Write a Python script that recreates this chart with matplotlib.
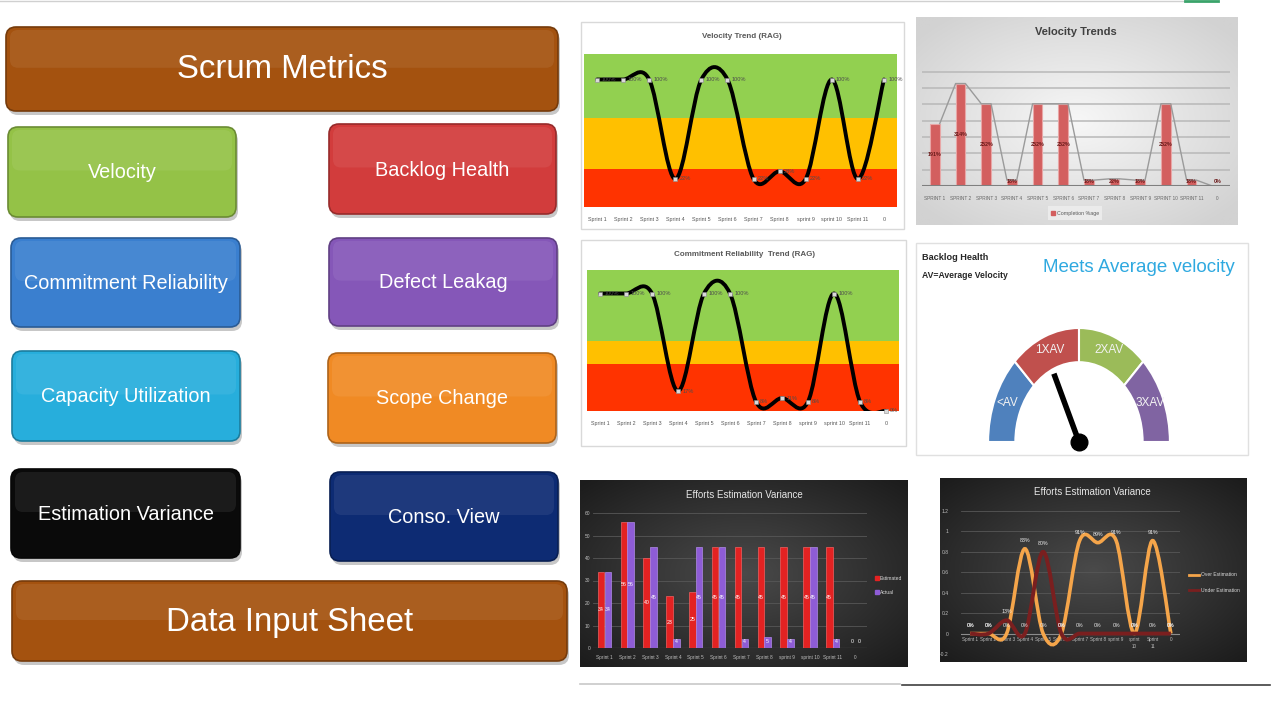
import numpy as np
import matplotlib
matplotlib.use("Agg")
import matplotlib.pyplot as plt
import matplotlib.colors as mcolors
from matplotlib import font_manager as fm
from matplotlib.patches import FancyBboxPatch, Rectangle, Wedge, PathPatch
from matplotlib.path import Path

# narrow face if one is installed, otherwise Liberation Sans at a smaller size
installed = {f.name for f in fm.fontManager.ttflist}
if "Liberation Sans Narrow" in installed:
    plt.rcParams["font.family"] = ["Liberation Sans Narrow", "DejaVu Sans"]
    K = 1.0
else:
    plt.rcParams["font.family"] = ["Liberation Sans", "DejaVu Sans"]
    K = 0.82

# ---------------------------------------------------------------------------
# DATA
# ---------------------------------------------------------------------------
rag_sprints = ["Sprint 1", "Sprint 2", "Sprint 3", "Sprint 4", "Sprint 5", "Sprint 6",
               "Sprint 7", "Sprint 8", "sprint 9", "sprint 10", "Sprint 11", "0"]
trend_sprints = ["SPRINT 1", "SPRINT 2", "SPRINT 3", "SPRINT 4", "SPRINT 5", "SPRINT 6",
                 "SPRINT 7", "SPRINT 8", "SPRINT 9", "SPRINT 10", "SPRINT 11", "0"]
effort_sprints = ["Sprint 1", "Sprint 2", "Sprint 3", "Sprint 4", "Sprint 5", "Sprint 6",
                  "Sprint 7", "Sprint 8", "sprint 9", "sprint\n10", "Sprint\n11", "0"]

velocity_rag = [1.00, 1.00, 1.00, 0.22, 1.00, 1.00, 0.22, 0.28, 0.22, 1.00, 0.22, 1.00]
commitment_rag = [1.00, 1.00, 1.00, 0.17, 1.00, 1.00, 0.08, 0.11, 0.08, 1.00, 0.08, 0.00]
completion_pct = [1.91, 3.14, 2.52, 0.18, 2.52, 2.52, 0.18, 0.22, 0.18, 2.52, 0.18, 0.00]

estimated = [34, 56, 40, 23, 25, 45, 45, 45, 45, 45, 45, 0]
actual = [34, 56, 45, 4, 45, 45, 4, 5, 4, 45, 4, 0]

over_estimation = [0, 0, 0, 0.83, 0, 0, 0.91, 0.89, 0.91, 0, 0.91, 0]
under_estimation = [0, 0, 0.13, 0, 0.80, 0, 0, 0, 0, 0, 0, 0]

gauge_labels = ["<AV", "1XAV", "2XAV", "3XAV"]
gauge_colors = ["#4F81BD", "#C0504D", "#9BBB59", "#8064A2"]
needle_value = 1.45   # in units of average velocity (0..4 across the dial)

buttons = [
    # label, x0, y0, x1, y1, colour, fontsize
    ("Scrum Metrics", 6, 27, 558, 111, "#A4520F", 29),
    ("Velocity", 8, 127, 236, 217, "#94C247", 17.5),
    ("Backlog Health", 329, 124, 556, 214, "#D23C3C", 17.5),
    ("Commitment Reliability", 11, 238, 240, 327, "#3A7FCF", 17.5),
    ("Defect Leakag", 329, 238, 557, 326, "#8557B8", 17.5),
    ("Capacity Utilization", 12, 351, 240, 441, "#27AEDC", 17.5),
    ("Scope Change", 328, 353, 556, 443, "#F08A24", 17.5),
    ("Estimation Variance", 11, 469, 240, 558, "#0A0A0A", 17.5),
    ("Conso. View", 330, 472, 558, 561, "#0D2B73", 17.5),
    ("Data Input Sheet", 12, 581, 567, 661, "#A4520F", 29),
]

# ---------------------------------------------------------------------------
# CANVAS (pixel coordinates, y downwards)
# ---------------------------------------------------------------------------
W, H = 1280, 720
fig = plt.figure(figsize=(12.8, 7.2), dpi=100, facecolor="white")
bg = fig.add_axes([0, 0, 1, 1])
bg.axis("off")


def px_axes(x0, y0, x1, y1):
    ax = fig.add_axes([x0 / W, 1 - y1 / H, (x1 - x0) / W, (y1 - y0) / H])
    ax.set_facecolor("none")
    for s in ax.spines.values():
        s.set_visible(False)
    return ax


def gradient_box(x0, y0, x1, y1, inner, outer, spread=1.4):
    yy, xx = np.mgrid[-1:1:80j, -1:1:120j]
    r = np.clip(np.sqrt(xx ** 2 + yy ** 2) / spread, 0, 1)[..., None]
    img = np.array(mcolors.to_rgb(inner)) * (1 - r) + np.array(mcolors.to_rgb(outer)) * r
    bg.imshow(img, extent=(x0, x1, y1, y0), aspect="auto", zorder=1, interpolation="bilinear")


def smooth_path(xs, ys):
    # Excel-like smoothed line: Catmull-Rom segments as cubic Beziers
    xs = np.asarray(xs, float)
    ys = np.asarray(ys, float)
    px = np.concatenate([[xs[0]], xs, [xs[-1]]])
    py = np.concatenate([[ys[0]], ys, [ys[-1]]])
    verts = [(xs[0], ys[0])]
    codes = [Path.MOVETO]
    for i in range(len(xs) - 1):
        c1 = (px[i + 1] + (px[i + 2] - px[i]) / 6, py[i + 1] + (py[i + 2] - py[i]) / 6)
        c2 = (px[i + 2] - (px[i + 3] - px[i + 1]) / 6, py[i + 2] - (py[i + 3] - py[i + 1]) / 6)
        verts += [c1, c2, (px[i + 2], py[i + 2])]
        codes += [Path.CURVE4] * 3
    return Path(verts, codes)


# --- buttons ---------------------------------------------------------------
for label, x0, y0, x1, y1, col, fs in buttons:
    w, h = x1 - x0, y1 - y0
    style = "round,pad=0,rounding_size=10"
    bg.add_patch(FancyBboxPatch((x0 + 2, y0 + 4), w, h, boxstyle=style,
                                fc="black", alpha=0.22, ec="none", zorder=2))
    dark = tuple(np.array(mcolors.to_rgb(col)) * 0.72)
    bg.add_patch(FancyBboxPatch((x0, y0), w, h, boxstyle=style, fc=col, ec=dark, lw=1.2, zorder=3))
    bg.add_patch(FancyBboxPatch((x0 + 4, y0 + 3), w - 8, h * 0.45, boxstyle="round,pad=0,rounding_size=8",
                                fc="white", alpha=0.07, ec="none", zorder=4))
    bg.text((x0 + x1) / 2, (y0 + y1) / 2 + 1, label, ha="center", va="center",
            fontsize=fs * K, color="white", zorder=5)

# --- frames ----------------------------------------------------------------
bg.add_patch(Rectangle((581, 22), 323, 207, fc="white", ec="#D9D9D9", lw=1, zorder=1))
bg.add_patch(Rectangle((581, 240), 325, 206, fc="white", ec="#D9D9D9", lw=1, zorder=1))
bg.add_patch(Rectangle((916, 243), 332, 212, fc="white", ec="#E0E0E0", lw=1, zorder=1))
gradient_box(916, 17, 1238, 225, "#F7F7F7", "#D2D2D2", spread=1.3)
gradient_box(580, 480, 908, 667, "#4A4A4A", "#1C1C1C")
gradient_box(940, 478, 1247, 662, "#4A4A4A", "#1C1C1C")

# page lines
bg.plot([0, 1185], [1, 1], color="#D0D0D0", lw=1, zorder=1)
bg.plot([1185, 1218], [1, 1], color="#3AA36A", lw=2, zorder=1)
bg.plot([580, 900], [684, 684], color="#C8C8C8", lw=1.2, zorder=1)
bg.plot([902, 1270], [685, 685], color="#404040", lw=1.2, zorder=1)

x = np.arange(12)

# --- RAG charts ------------------------------------------------------------
def rag_chart(box, title, title_xy, values, red_top, yellow_top):
    ax = px_axes(*box)
    ax.set_xlim(-0.5, 11.5)
    ax.set_ylim(0, 1.2)
    ax.axhspan(0, red_top, color="#FF3300", lw=0)
    ax.axhspan(red_top, yellow_top, color="#FFC000", lw=0)
    ax.axhspan(yellow_top, 1.2, color="#92D050", lw=0)
    ax.add_patch(PathPatch(smooth_path(x, values), fill=False, lw=2.8, ec="black",
                           capstyle="round", zorder=3))
    ax.plot(x, values, ls="none", marker="s", ms=2.5, mfc="#D9D9D9", mec="#8C8C8C",
            mew=0.4, zorder=4, clip_on=False)
    for xi, v in zip(x, values):
        ax.annotate(f"{v:.0%}", (xi, v), xytext=(3, 0), textcoords="offset points",
                    ha="left", va="center", fontsize=4.5 * K / 0.82 * 0.9, color="#4D4D4D",
                    zorder=5, annotation_clip=False)
    ax.set_xticks(x)
    ax.set_xticklabels(rag_sprints, fontsize=3.9, color="#595959")
    ax.tick_params(axis="x", length=0, pad=7)
    ax.set_yticks([])
    bg.text(title_xy[0], title_xy[1], title, ha="center", va="center", fontsize=5.8,
            color="#595959", fontweight="bold", zorder=5)
    return ax


rag_chart((584, 54, 897, 207), "Velocity Trend (RAG)", (742, 36), velocity_rag, 0.3, 0.7)
rag_chart((587, 270, 899, 411), "Commitment Reliability  Trend (RAG)", (745, 254),
          commitment_rag, 0.4, 0.6)

# --- Velocity Trends bar chart ---------------------------------------------
ax = px_axes(922, 62, 1230, 186)
ax.set_xlim(-0.5, 11.5)
ax.set_ylim(0, 3.8)
ax.set_yticks(np.arange(0.5, 3.6, 0.5))
ax.tick_params(axis="y", length=0, labelleft=False)
ax.grid(axis="y", color="#B8B8B8", lw=1.1)
ax.set_axisbelow(True)
bw = 0.38
ax.bar(x, completion_pct, width=bw, color="#D35F5F", ec="#E8A6A6", lw=0.8, zorder=2)
lx, ly = [], []
for xi, v in zip(x, completion_pct):
    lx += [xi - bw / 2, xi + bw / 2]
    ly += [v, v]
ax.plot(lx[1:], ly[1:], color="#9A9A9A", lw=1, zorder=3)
ax.axhline(0, color="#7F7F7F", lw=1.5, zorder=3)
for xi, v in zip(x, completion_pct):
    ax.text(xi, max(v / 2, 0.15), f"{v:.0%}", ha="center", va="center", fontsize=3.9,
            color="#6B1A1A", fontweight="bold", zorder=4)
ax.set_xticks(x)
ax.set_xticklabels(trend_sprints, fontsize=3.4, color="#666666")
ax.tick_params(axis="x", length=0, pad=7)
bg.text(1076, 32, "Velocity Trends", ha="center", va="center", fontsize=8,
        color="#404040", fontweight="bold", zorder=5)
bg.add_patch(Rectangle((1048, 206), 54, 14, fc="#EBEBEB", ec="none", zorder=2))
bg.plot([1053], [213], marker="s", ms=2.2, color="#D35F5F", zorder=3)
bg.text(1057, 213, "Completion %age", fontsize=3.8, color="#595959", va="center", zorder=3)

# --- Backlog Health gauge --------------------------------------------------
bg.text(922, 257, "Backlog Health", fontsize=6.6, fontweight="bold", color="#262626",
        va="center", zorder=5)
bg.text(922, 275, "AV=Average Velocity", fontsize=6.2, fontweight="bold", color="#262626",
        va="center", zorder=5)
bg.text(1139, 268, "Meets Average velocity", fontsize=13.5, color="#2FA9E0",
        ha="center", va="center", zorder=5)

gx = px_axes(979, 316.6, 1179, 453.4)
gx.set_xlim(-1.1, 1.1)
gx.set_ylim(-0.1, 1.1)
gx.set_xticks([])
gx.set_yticks([])
for i, (lab, col) in enumerate(zip(gauge_labels, gauge_colors)):
    t2 = 180 - 45 * i
    t1 = t2 - 45
    gx.add_patch(Wedge((0, 0), 1.0, t1, t2, width=0.30, fc=col, ec="white", lw=1.5))
    mid = np.radians((t1 + t2) / 2)
    gx.text(0.85 * np.cos(mid), 0.85 * np.sin(mid) + 0.02, lab, ha="center", va="center",
            fontsize=8.5, color="#F2F2F2")
ang = np.radians(180 - 45 * needle_value)
gx.plot([0, 0.66 * np.cos(ang)], [0, 0.66 * np.sin(ang)], color="black", lw=4,
        solid_capstyle="butt", zorder=4)
gx.plot([0], [0], marker="o", ms=12, color="black", zorder=5, clip_on=False)

# --- Efforts Estimation Variance (bars) ------------------------------------
ax = px_axes(593, 513, 867, 648)
ax.set_xlim(-0.5, 11.5)
ax.set_ylim(0, 60)
ax.set_yticks(np.arange(0, 61, 10))
ax.grid(axis="y", color="#575757", lw=0.6)
ax.set_axisbelow(True)
ax.tick_params(axis="y", length=0, labelsize=3.5, labelcolor="#BFBFBF", pad=2)
bw = 0.28
ax.bar(x - 0.15, estimated, width=bw, color="#E32222", ec="#F06060", lw=0.5, zorder=2)
ax.bar(x + 0.15, actual, width=bw, color="#8E5CD6", ec="#B08AE8", lw=0.5, zorder=2)
for xi, e, a in zip(x, estimated, actual):
    ax.text(xi - 0.15, max(e / 2, 3), f"{e}", ha="center", va="center", fontsize=3.8,
            color="white", zorder=4)
    ax.text(xi + 0.15, max(a / 2, 3), f"{a}", ha="center", va="center", fontsize=3.8,
            color="white", zorder=4)
ax.axhline(0, color="#8C8C8C", lw=0.8)
ax.set_xticks(x)
ax.set_xticklabels(rag_sprints, fontsize=3.4, color="#BFBFBF")
ax.tick_params(axis="x", length=0, pad=5)
bg.text(744, 495, "Efforts Estimation Variance", ha="center", va="center", fontsize=7,
        color="#E6E6E6", zorder=5)
bg.plot([877], [578], marker="s", ms=2.2, color="#E32222", zorder=3)
bg.text(880, 578, "Estimated", fontsize=3.6, color="#D9D9D9", va="center", zorder=3)
bg.plot([877], [592], marker="s", ms=2.2, color="#8E5CD6", zorder=3)
bg.text(880, 592, "Actual", fontsize=3.6, color="#D9D9D9", va="center", zorder=3)

# --- Efforts Estimation Variance (lines) -----------------------------------
ax = px_axes(961, 511, 1180, 654)
ax.set_xlim(-0.5, 11.5)
ax.set_ylim(-0.2, 1.2)
yt = [-0.2, 0, 0.2, 0.4, 0.6, 0.8, 1.0, 1.2]
ax.set_yticks(yt)
ax.set_yticklabels(["-0.2", "0", "0.2", "0.4", "0.6", "0.8", "1", "1.2"])
ax.grid(axis="y", color="#575757", lw=0.6)
ax.set_axisbelow(True)
ax.tick_params(axis="y", length=0, labelsize=3.6, labelcolor="#BFBFBF", pad=9)
ax.axhline(0, color="#8C8C8C", lw=0.8)
over_col, under_col = "#F5A54A", "#7A1F1F"
ax.add_patch(PathPatch(smooth_path(x, over_estimation), fill=False, lw=2.6, ec=over_col, zorder=3))
ax.add_patch(PathPatch(smooth_path(x, under_estimation), fill=False, lw=2.8, ec=under_col, zorder=3))
for series in (over_estimation, under_estimation):
    for xi, v in zip(x, series):
        ax.annotate(f"{v:.0%}", (xi, v), xytext=(0, 6), textcoords="offset points",
                    ha="center", va="center", fontsize=3.8, color="#EDEDED", zorder=5)
ax.set_xticks([])
for xi, lab in zip(x, effort_sprints):
    ax.annotate(lab, (xi, 0), xytext=(0, -2.5), textcoords="offset points", ha="center",
                va="top", fontsize=3.3, color="#BFBFBF", linespacing=1.6, zorder=2)
bg.text(1092, 492, "Efforts Estimation Variance", ha="center", va="center", fontsize=7,
        color="#E6E6E6", zorder=5)
bg.plot([1189, 1199], [575, 575], color=over_col, lw=2, zorder=3)
bg.text(1201, 575, "Over Estimation", fontsize=3.6, color="#D9D9D9", va="center", zorder=3)
bg.plot([1189, 1199], [590, 590], color=under_col, lw=2, zorder=3)
bg.text(1201, 590, "Under Estimation", fontsize=3.6, color="#D9D9D9", va="center", zorder=3)

bg.set_xlim(0, W)
bg.set_ylim(H, 0)

fig.savefig("out.png", dpi=100, facecolor="white")
